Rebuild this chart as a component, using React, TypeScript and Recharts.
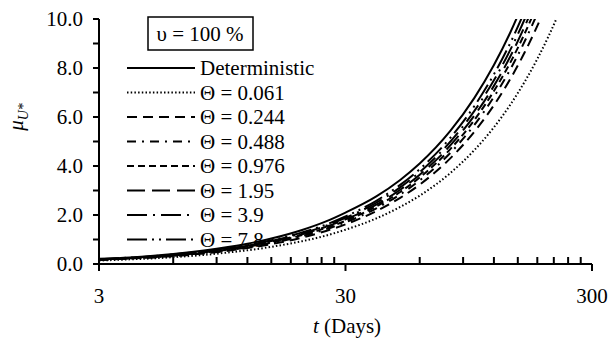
import { LineChart, Line, XAxis, YAxis, Legend } from 'recharts';

// time in days (log axis)
const days = [3, 4, 5, 6, 8, 10, 12, 15, 20, 25, 30, 40, 50, 60, 80, 100, 120, 140, 160, 180, 200, 220];

// mean of U* for each case
const deterministic = [0.21, 0.27, 0.34, 0.41, 0.55, 0.69, 0.83, 1.04, 1.39, 1.74, 2.1, 2.76, 3.43, 4.1, 5.44, 6.78, 8.12, 9.46, 10.8];
const theta0061 = [0.14, 0.19, 0.23, 0.28, 0.37, 0.47, 0.56, 0.7, 0.93, 1.16, 1.4, 1.86, 2.33, 2.79, 3.72, 4.65, 5.58, 6.51, 7.44, 8.37, 9.3, 10.23];
const theta0244 = [0.16, 0.22, 0.27, 0.32, 0.43, 0.54, 0.65, 0.81, 1.08, 1.35, 1.62, 2.16, 2.7, 3.24, 4.32, 5.4, 6.48, 7.56, 8.64, 9.72, 10.8];
const theta0488 = [0.17, 0.23, 0.28, 0.34, 0.45, 0.57, 0.68, 0.85, 1.14, 1.42, 1.7, 2.27, 2.84, 3.41, 4.54, 5.68, 6.82, 7.95, 9.09, 10.22];
const theta0976 = [0.18, 0.24, 0.29, 0.35, 0.47, 0.59, 0.71, 0.88, 1.18, 1.47, 1.76, 2.35, 2.94, 3.53, 4.7, 5.88, 7.06, 8.23, 9.41, 10.58];
const theta195 = [0.18, 0.24, 0.3, 0.36, 0.48, 0.61, 0.73, 0.91, 1.21, 1.52, 1.82, 2.42, 3.03, 3.64, 4.85, 6.06, 7.27, 8.48, 9.7, 10.91];
const theta39 = [0.19, 0.25, 0.31, 0.38, 0.5, 0.63, 0.75, 0.94, 1.25, 1.56, 1.88, 2.5, 3.13, 3.75, 5.0, 6.25, 7.5, 8.75, 10.0, 11.25];
const theta78 = [0.19, 0.26, 0.32, 0.39, 0.52, 0.65, 0.77, 0.97, 1.29, 1.61, 1.94, 2.58, 3.23, 3.87, 5.16, 6.45, 7.74, 9.03, 10.32];

const seriesNames = ['Deterministic', 'Θ = 0.061', 'Θ = 0.244', 'Θ = 0.488', 'Θ = 0.976', 'Θ = 1.95', 'Θ = 3.9', 'Θ = 7.8'];
const seriesValues = [deterministic, theta0061, theta0244, theta0488, theta0976, theta195, theta39, theta78];

const xTicks = [3, 6, 9, 12, 15, 18, 21, 24, 27, 30, 60, 90, 120, 150, 180, 210, 240, 270, 300];
const xMajor = [3, 30, 300];
const yTicks = [0, 1, 2, 3, 4, 5, 6, 7, 8, 9, 10];

// line styles, same order as seriesNames
const dashes = ['', '1.5 2.2', '10 6', '9 6 2 6', '7 4', '18 7', '20 6 2 6', '20 5 2 5 2 5'];

const FONT = 'Liberation Serif';
const txt = { fontFamily: FONT };

const keys = seriesNames.map((_, i) => `s${i}`);
const rows = days.map((t, i) => {
  const row: Record<string, number | undefined> = { t };
  seriesValues.forEach((vals, j) => {
    row[keys[j]] = vals[i];
  });
  return row;
});

function XTick(props: any) {
  const { x, y, payload } = props;
  const major = xMajor.includes(payload.value);
  return (
    <g>
      <line x1={x} x2={x} y1={y} y2={major ? y + 7 : y - 7} stroke="#000" strokeWidth={2} />
      {major && (
        <text x={x} y={y + 39} textAnchor="middle" fontSize={21} style={txt} fill="#000">
          {payload.value}
        </text>
      )}
    </g>
  );
}

function renderLegend() {
  const rowY = (i: number) => 68 + i * 24.5;
  return (
    <svg width={610} height={347} style={{ display: 'block' }}>
      <rect x={148} y={17} width={105} height={33} fill="#fff" stroke="#000" strokeWidth={1.5} />
      <text x={200} y={41} textAnchor="middle" fontSize={21} style={txt} fill="#000">
        υ = 100 %
      </text>
      {seriesNames.map((name, i) => (
        <g key={name}>
          <line
            x1={127}
            x2={195}
            y1={rowY(i)}
            y2={rowY(i)}
            stroke="#000"
            strokeWidth={2}
            strokeDasharray={dashes[i] || undefined}
          />
          <text x={200} y={rowY(i) + 7} fontSize={21} style={txt} fill="#000">
            {name}
          </text>
        </g>
      ))}
      <text transform="translate(23,117) rotate(-90)" textAnchor="middle" fontSize={21} style={txt} fontStyle="italic" fill="#000">
        μ<tspan dy={5} fontSize={14}>U*</tspan>
      </text>
      <text x={347} y={333} textAnchor="middle" fontSize={21} style={txt} fill="#000">
        <tspan fontStyle="italic">t</tspan> (Days)
      </text>
    </svg>
  );
}

export default function App() {
  return (
    <div style={{ position: 'absolute', left: 0, top: 0, background: '#fff', fontFamily: FONT }}>
      <LineChart width={610} height={347} data={rows} margin={{ top: 19, right: 18, bottom: 53, left: 0 }}>
        <XAxis
          dataKey="t"
          type="number"
          scale="log"
          domain={[3, 300]}
          allowDataOverflow
          ticks={xTicks}
          interval={0}
          tickSize={0}
          tickMargin={0}
          tickLine={false}
          tick={<XTick />}
          axisLine={{ stroke: '#000', strokeWidth: 2 }}
          height={30}
        />
        <YAxis
          type="number"
          domain={[0, 10]}
          allowDataOverflow
          ticks={yTicks}
          interval={0}
          width={99}
          tickSize={6}
          tickMargin={10}
          tickFormatter={(v: number) => (v % 2 === 0 ? v.toFixed(1) : '')}
          tick={{ fontSize: 21, fontFamily: FONT, fill: '#000', style: txt }}
          tickLine={{ stroke: '#000', strokeWidth: 2 }}
          axisLine={{ stroke: '#000', strokeWidth: 2 }}
        />
        <Legend
          layout="vertical"
          align="center"
          verticalAlign="middle"
          content={renderLegend}
          wrapperStyle={{ position: 'absolute', left: 0, top: 0, width: 610, height: 347, pointerEvents: 'none' }}
        />
        {keys.map((k, i) => (
          <Line
            key={k}
            dataKey={k}
            name={seriesNames[i]}
            type="monotone"
            stroke="#000"
            strokeWidth={2}
            strokeDasharray={dashes[i] || undefined}
            dot={false}
            activeDot={false}
            isAnimationActive={false}
          />
        ))}
      </LineChart>
    </div>
  );
}
